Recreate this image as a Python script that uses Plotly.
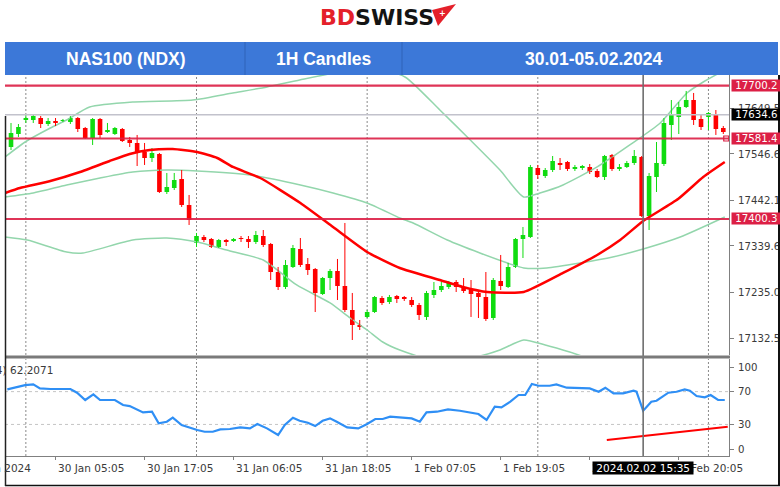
import plotly.graph_objects as go

W, H = 780, 487

# ---------------- data ----------------
opens = [17562.3, 17591.5, 17623.0, 17623.0, 17627.5, 17614.0, 17620.8, 17620.8, 17618.5, 17627.5,
         17605.0, 17582.5, 17625.3, 17596.0, 17591.5, 17602.8, 17578.0, 17571.3, 17551.0, 17537.5,
         17546.5, 17461.0, 17470.0, 17490.3, 17431.8, 17346.3, 17359.8, 17355.3, 17337.3, 17350.8,
         17350.8, 17357.5, 17355.3, 17348.5, 17362.0, 17344.0, 17281.0, 17247.3, 17292.3, 17332.8,
         17299.0, 17287.8, 17231.5, 17267.5, 17283.3, 17249.5, 17195.5, 17161.8, 17179.8, 17191.0,
         17222.5, 17213.5, 17227.0, 17224.8, 17218.0, 17206.8, 17179.8, 17229.3, 17240.5, 17247.3,
         17258.5, 17247.3, 17240.5, 17233.8, 17224.8, 17177.5, 17260.8, 17247.3, 17292.3, 17355.3,
         17359.8, 17515.0, 17497.0, 17510.5, 17526.3, 17528.5, 17512.8, 17515.0, 17517.3, 17508.3,
         17494.8, 17544.3, 17512.8, 17517.3, 17526.3, 17539.8, 17407.0, 17494.8, 17524.0, 17611.8,
         17629.8, 17652.3, 17668.0, 17625.3, 17629.8, 17636.5, 17605.0]
highs = [17616.3, 17614.0, 17634.3, 17634.3, 17632.0, 17627.5, 17627.5, 17625.3, 17632.0, 17629.8,
         17607.3, 17627.5, 17627.5, 17616.3, 17607.3, 17605.0, 17584.8, 17589.3, 17571.3, 17560.0,
         17548.8, 17503.8, 17503.8, 17510.5, 17454.3, 17368.8, 17364.3, 17357.5, 17355.3, 17355.3,
         17357.5, 17362.0, 17362.0, 17373.3, 17375.5, 17346.3, 17292.3, 17308.0, 17341.8, 17357.5,
         17312.5, 17290.0, 17269.8, 17287.8, 17310.3, 17391.3, 17233.8, 17173.0, 17195.5, 17227.0,
         17227.0, 17229.3, 17229.3, 17227.0, 17224.8, 17211.3, 17238.3, 17258.5, 17258.5, 17260.8,
         17263.0, 17267.5, 17263.0, 17240.5, 17281.0, 17267.5, 17319.3, 17301.3, 17357.5, 17382.3,
         17521.8, 17521.8, 17515.0, 17542.0, 17537.5, 17530.8, 17521.8, 17521.8, 17524.0, 17512.8,
         17544.3, 17546.5, 17524.0, 17530.8, 17555.5, 17542.0, 17503.8, 17573.5, 17627.5, 17668.0,
         17663.5, 17688.3, 17683.8, 17634.3, 17641.0, 17645.5, 17609.5]
lows = [17555.5, 17584.8, 17616.3, 17616.3, 17605.0, 17609.5, 17609.5, 17618.5, 17614.0, 17596.0,
        17580.3, 17566.8, 17582.5, 17593.8, 17589.3, 17573.5, 17562.3, 17519.5, 17521.8, 17528.5,
        17458.8, 17456.5, 17465.5, 17427.3, 17386.8, 17337.3, 17348.5, 17335.0, 17335.0, 17339.5,
        17348.5, 17348.5, 17335.0, 17344.0, 17337.3, 17263.0, 17240.5, 17242.8, 17290.0, 17292.3,
        17274.3, 17191.0, 17229.3, 17240.5, 17218.0, 17191.0, 17128.0, 17150.5, 17177.5, 17188.8,
        17206.8, 17209.0, 17211.3, 17215.8, 17202.3, 17173.0, 17173.0, 17222.5, 17236.0, 17242.8,
        17236.0, 17233.8, 17179.8, 17177.5, 17170.8, 17173.0, 17240.5, 17245.0, 17290.0, 17312.5,
        17357.5, 17490.3, 17492.5, 17506.0, 17510.5, 17508.3, 17508.3, 17510.5, 17501.5, 17492.5,
        17488.0, 17508.3, 17508.3, 17515.0, 17521.8, 17404.8, 17375.5, 17461.0, 17519.5, 17578.0,
        17591.5, 17650.0, 17611.8, 17600.5, 17600.5, 17589.3, 17591.5]
closes = [17593.8, 17607.3, 17627.5, 17632.0, 17614.0, 17620.8, 17616.3, 17623.0, 17627.5, 17602.8,
          17582.5, 17625.3, 17589.3, 17600.5, 17605.0, 17575.8, 17571.3, 17548.8, 17537.5, 17548.8,
          17461.0, 17472.3, 17488.0, 17431.8, 17398.0, 17362.0, 17353.0, 17337.3, 17353.0, 17348.5,
          17355.3, 17355.3, 17348.5, 17364.3, 17341.8, 17281.0, 17247.3, 17296.8, 17335.0, 17296.8,
          17285.5, 17233.8, 17267.5, 17283.3, 17249.5, 17195.5, 17161.8, 17157.3, 17191.0, 17224.8,
          17211.3, 17224.8, 17220.3, 17220.3, 17206.8, 17184.3, 17233.8, 17240.5, 17249.5, 17256.3,
          17247.3, 17238.3, 17231.5, 17224.8, 17175.3, 17263.0, 17249.5, 17292.3, 17355.3, 17364.3,
          17517.3, 17499.3, 17510.5, 17530.8, 17521.8, 17512.8, 17517.3, 17517.3, 17506.0, 17494.8,
          17542.0, 17512.8, 17517.3, 17526.3, 17542.0, 17407.0, 17497.0, 17526.3, 17616.3, 17634.3,
          17652.3, 17668.0, 17623.0, 17607.3, 17638.8, 17602.8, 17596.0]

# red moving average (bar index, price)
ma_x = [-0.8, 1.2, 5.3, 9.3, 13.3, 16.0, 18.7, 21.8, 25.1, 27.8, 29.9, 33.6, 39.0, 43.4, 48.0,
        52.4, 57.8, 60.9, 64.2, 69.1, 74.4, 79.0, 82.1, 85.2, 89.9, 93.3, 96.2]
ma_y = [17458.8, 17470.0, 17485.8, 17506.0, 17530.8, 17546.5, 17555.5, 17557.8, 17551.0, 17537.5,
        17517.3, 17492.5, 17436.3, 17382.3, 17326.0, 17290.0, 17263.0, 17247.3, 17236.0, 17236.0,
        17278.8, 17319.3, 17353.0, 17395.8, 17445.3, 17494.8, 17528.5]

# Bollinger bands (bar index, price)
bb_up_x = [-0.8, 1.9, 5.3, 7.5, 10.6, 16.4, 24.5, 29.9, 34.5, 38.9, 44.3, 49.1, 53.1, 57.8, 61.9,
           65.9, 69.1, 71.3, 74.4, 79.0, 83.4, 87.5, 91.1, 93.3, 96.2]
bb_up_y = [17539.8, 17573.5, 17605.0, 17623.0, 17652.3, 17663.5, 17668.0, 17683.8, 17697.3, 17713.0,
           17731.0, 17740.0, 17719.8, 17645.5, 17578.0, 17510.5, 17449.8, 17458.8, 17476.8, 17517.3,
           17566.8, 17616.3, 17683.8, 17708.5, 17735.5]
bb_mid_x = [-0.8, 3.0, 7.5, 12.0, 16.4, 21.0, 25.1, 32.2, 39.0, 43.4, 48.0, 52.4, 54.2, 58.8, 63.2,
            67.7, 69.1, 72.2, 76.7, 81.1, 85.2, 90.2, 96.2]
bb_mid_y = [17449.8, 17458.8, 17476.8, 17492.5, 17506.0, 17510.5, 17508.3, 17499.3, 17476.8, 17458.8,
            17436.3, 17402.5, 17391.3, 17353.0, 17323.8, 17296.8, 17290.0, 17290.0, 17301.3, 17314.8,
            17332.8, 17359.8, 17404.8]
bb_lo_x = [-0.8, 2.2, 7.5, 9.7, 16.4, 21.0, 25.1, 29.5, 34.0, 38.5, 43.0, 45.7, 48.0, 50.1, 52.4,
           57.8, 63.2, 65.9, 69.1, 72.0, 75.3, 79.4, 86.1, 96.2]
bb_lo_y = [17359.8, 17353.0, 17326.0, 17323.8, 17353.0, 17357.5, 17348.5, 17328.3, 17308.0, 17251.8,
           17211.3, 17177.5, 17150.5, 17123.5, 17105.5, 17078.5, 17092.0, 17105.5, 17128.0, 17116.8,
           17101.0, 17078.5, 17056.0, 17042.5]

# RSI (bar index, value)
rsi_x = [-0.5, 0.8, 1.9, 3.0, 3.9, 5.3, 8.0, 8.9, 10.0, 11.1, 12.0, 14.0, 15.1, 16.0, 17.0, 17.8,
         19.0, 19.9, 21.0, 21.8, 23.0, 23.9, 25.1, 26.1, 27.2, 28.2, 29.5, 30.9, 32.2, 33.2, 34.5,
         36.0, 36.9, 38.0, 38.9, 40.0, 41.0, 42.0, 43.0, 43.9, 45.3, 46.8, 48.0, 49.1, 50.1, 51.1,
         52.9, 54.0, 55.1, 56.0, 57.4, 58.9, 60.5, 63.0, 64.1, 65.2, 66.1, 67.3, 68.4, 69.3, 70.2,
         71.1, 72.6, 73.5, 74.9, 78.0, 79.2, 80.1, 81.2, 82.5, 83.9, 84.3, 85.2, 86.3, 87.0, 88.6,
         89.7, 90.8, 91.5, 92.4, 93.5, 94.3, 95.3, 96.2]
rsi_y = [72.8, 75.2, 78.0, 78.9, 74.0, 73.2, 73.2, 68.7, 59.8, 66.7, 59.8, 59.8, 53.7, 52.4, 47.6, 44.7,
         45.5, 31.3, 33.3, 38.2, 29.3, 26.4, 23.2, 21.1, 21.1, 24.0, 24.4, 26.4, 25.2, 30.5, 25.2,
         17.1, 29.3, 38.2, 34.5, 32.1, 28.0, 34.5, 37.4, 33.3, 26.4, 25.2, 30.5, 36.6, 36.6, 39.4,
         38.6, 37.4, 33.3, 44.7, 45.5, 48.4, 46.7, 42.7, 35.4, 51.6, 50.8, 57.7, 65.9, 65.9, 79.3,
         77.2, 77.2, 78.9, 74.8, 74.0, 69.9, 74.8, 67.9, 67.9, 71.1, 69.9, 46.7, 57.7, 58.9, 68.7,
         69.9, 72.8, 71.1, 64.6, 63.0, 65.9, 59.8, 59.8]
rsi_trend_x = [80.3, 96.6]
rsi_trend_y = [11.0, 27.2]

levels = [17700.2, 17581.4, 17400.3]
level_labels = ["17700.2", "17581.4", "17400.3"]
cross_price = 17634.6
cross_price_label = "17634.6"
cross_bar = 85.2
cross_time = "2024.02.02 15:35"
price_ticks = [17132.5, 17235.0, 17339.6, 17442.1, 17546.6, 17649.5]
price_tick_text = ["17132.5", "17235.0", "17339.6", "17442.1", "17546.6", "17649.5"]
rsi_ticks = [0, 30, 70, 100]
rsi_levels = [30, 70]
time_tick_bars = [-6, 6, 18, 30, 42, 54, 66, 78, 90]
time_tick_text = ["29 Jan 2024", "30 Jan 05:05", "30 Jan 17:05", "31 Jan 06:05", "31 Jan 18:05",
                  "1 Feb 07:05", "1 Feb 19:05", "2 Feb 08:05", "2 Feb 20:05"]
grid_bars = [2, 25, 48, 71, 94]
rsi_label = "RSI(14) 62.2071"
header_cells = ["NAS100 (NDX)", "1H Candles", "30.01-05.02.2024"]

# ---------------- layout geometry ----------------
def px_x(x):
    return x / W

def px_y(y):
    return 1 - y / H

XD = [px_x(5), px_x(729)]
XR = [-0.81, 96.77]
YD_MAIN = [px_y(355), px_y(75)]
YR_MAIN = [17094.25, 17724.25]
YD_RSI = [px_y(456), px_y(359)]
YR_RSI = [-8.5, 109.8]

def bar_to_paper(i):
    return XD[0] + (i - XR[0]) / (XR[1] - XR[0]) * (XD[1] - XD[0])

GREEN = "#10DC10"
RED = "#FF0000"
BB_COL = "#93D6AC"
LEVEL_COL = "#DC1F45"
AX_COL = "#808080"
TXT_COL = "#3a3a3a"
FONT = "DejaVu Sans"
FS = 10.2

n = len(opens)
idx = list(range(n))
is_up = [c >= o for o, c in zip(opens, closes)]

fig = go.Figure()

# Bollinger bands
for bx, by in [(bb_up_x, bb_up_y), (bb_mid_x, bb_mid_y), (bb_lo_x, bb_lo_y)]:
    fig.add_trace(go.Scatter(x=bx, y=by, mode="lines", xaxis="x2", yaxis="y",
                             line=dict(color=BB_COL, width=1.5, shape="spline", smoothing=0.6),
                             hoverinfo="skip"))

# wicks
for up_flag, col in [(True, GREEN), (False, RED)]:
    wx, wy = [], []
    for i in idx:
        if is_up[i] == up_flag:
            wx += [i, i, None]
            wy += [highs[i], lows[i], None]
    fig.add_trace(go.Scatter(x=wx, y=wy, mode="lines", xaxis="x2", yaxis="y",
                             line=dict(color=col, width=1), hoverinfo="skip"))

# bodies
body_base = [min(o, c) for o, c in zip(opens, closes)]
body_h = [max(abs(c - o), 1.6) for o, c in zip(opens, closes)]
fig.add_trace(go.Bar(x=idx, y=body_h, base=body_base, width=0.62, xaxis="x2", yaxis="y",
                     marker=dict(color=[GREEN if u else RED for u in is_up], line=dict(width=0)),
                     hoverinfo="skip"))

# moving average
fig.add_trace(go.Scatter(x=ma_x, y=ma_y, mode="lines", xaxis="x2", yaxis="y",
                         line=dict(color=RED, width=2.5, shape="spline", smoothing=0.5),
                         hoverinfo="skip"))

# small price marker at last bar
fig.add_trace(go.Scatter(x=[idx[-1] + 0.4], y=[levels[1]], mode="markers", xaxis="x2", yaxis="y",
                         marker=dict(symbol="square-open", size=5, color=LEVEL_COL, line=dict(width=1.2)),
                         hoverinfo="skip", cliponaxis=False))

# RSI
fig.add_trace(go.Scatter(x=rsi_x, y=rsi_y, mode="lines", xaxis="x", yaxis="y2",
                         line=dict(color="#2F8FF5", width=2.2), hoverinfo="skip"))
fig.add_trace(go.Scatter(x=rsi_trend_x, y=rsi_trend_y, mode="lines", xaxis="x", yaxis="y2",
                         line=dict(color=RED, width=2), hoverinfo="skip"))

shapes = []
# vertical dotted grid
for g in grid_bars:
    shapes.append(dict(type="line", xref="x2", yref="y domain", x0=g, x1=g, y0=0, y1=1,
                       line=dict(color="#8a8a8a", width=1, dash="2px,2px"), layer="below"))
    shapes.append(dict(type="line", xref="x", yref="y2 domain", x0=g, x1=g, y0=0, y1=1,
                       line=dict(color="#8a8a8a", width=1, dash="2px,2px"), layer="below"))
# RSI level dotted lines
for lv in rsi_levels:
    shapes.append(dict(type="line", xref="x domain", yref="y2", x0=0, x1=1, y0=lv, y1=lv,
                       line=dict(color="#c4c4c4", width=1, dash="3px,3px"), layer="below"))
# horizontal price levels
for lv in levels:
    shapes.append(dict(type="line", xref="x2 domain", yref="y", x0=0, x1=1, y0=lv, y1=lv,
                       line=dict(color=LEVEL_COL, width=2.2), layer="above", opacity=0.9))
# crosshair
shapes.append(dict(type="line", xref="x2 domain", yref="y", x0=0, x1=1, y0=cross_price, y1=cross_price,
                   line=dict(color="#c2c2cc", width=1.5), layer="above"))
shapes.append(dict(type="line", xref="x", yref="paper", x0=cross_bar, x1=cross_bar,
                   y0=YD_RSI[0], y1=YD_MAIN[1], line=dict(color="#6e6e6e", width=1.6), layer="above"))
# panel separator
shapes.append(dict(type="line", xref="paper", yref="paper", x0=px_x(5), x1=px_x(730),
                   y0=px_y(357), y1=px_y(357), line=dict(color="#7a7a7a", width=3), layer="above"))
# header bar
shapes.append(dict(type="rect", xref="paper", yref="paper", x0=px_x(5), x1=px_x(778),
                   y0=px_y(75), y1=px_y(42), fillcolor="#3C78D8", line=dict(width=0), layer="above"))
for dx in [245, 402]:
    shapes.append(dict(type="line", xref="paper", yref="paper", x0=px_x(dx), x1=px_x(dx),
                       y0=px_y(75), y1=px_y(42), line=dict(color="#2E62B8", width=1), layer="above"))
# outer borders
shapes.append(dict(type="line", xref="paper", yref="paper", x0=px_x(5), x1=1,
                   y0=px_y(485.5), y1=px_y(485.5), line=dict(color="#111111", width=1.5), layer="above"))
shapes.append(dict(type="line", xref="paper", yref="paper", x0=px_x(5.5), x1=px_x(5.5),
                   y0=px_y(486), y1=px_y(116), line=dict(color="#222222", width=1.5), layer="above"))
shapes.append(dict(type="line", xref="paper", yref="paper", x0=px_x(779), x1=px_x(779),
                   y0=px_y(486), y1=px_y(75), line=dict(color="#111111", width=2), layer="above"))
# logo arrow
shapes.append(dict(type="path", xref="paper", yref="paper",
                   path=f"M {px_x(432)},{px_y(10)} L {px_x(456)},{px_y(4)} L {px_x(438)},{px_y(26)} Z",
                   fillcolor="#E4202A", line=dict(width=0), layer="above"))

annotations = []
# level labels
for lv, lab in zip(levels, level_labels):
    annotations.append(dict(xref="paper", yref="y", x=px_x(731), y=lv, xanchor="left", yanchor="middle",
                            text="&nbsp;" + lab + "&nbsp;", showarrow=False, bgcolor=LEVEL_COL, borderpad=0,
                            font=dict(family=FONT, size=FS, color="white")))
annotations.append(dict(xref="paper", yref="y", x=px_x(731), y=cross_price, xanchor="left", yanchor="middle",
                        text="&nbsp;" + cross_price_label + "&nbsp;", showarrow=False, bgcolor="#000000",
                        borderpad=0, font=dict(family=FONT, size=FS, color="white")))
# time labels (left-aligned at tick)
for b, t in zip(time_tick_bars, time_tick_text):
    annotations.append(dict(xref="paper", yref="paper", x=bar_to_paper(b), y=px_y(467.5),
                            xanchor="left", yanchor="middle", text=t, showarrow=False,
                            font=dict(family=FONT, size=10.5, color=TXT_COL)))
# crosshair time box (drawn last so it covers the labels beneath, as in the terminal)
annotations.append(dict(xref="x", yref="paper", x=cross_bar, y=px_y(467.5), xanchor="center",
                        yanchor="middle", text="&nbsp;" + cross_time + "&nbsp;", showarrow=False,
                        bgcolor="#000000", borderpad=0,
                        font=dict(family=FONT, size=10.5, color="white")))
# RSI label (left part clipped by the frame)
annotations.append(dict(xref="paper", yref="paper", x=px_x(-34), y=px_y(370), xanchor="left",
                        yanchor="middle", text=rsi_label, showarrow=False,
                        font=dict(family=FONT, size=10.5, color=TXT_COL)))
# header texts
for cx, txt in zip([126, 324, 593], header_cells):
    annotations.append(dict(xref="paper", yref="paper", x=px_x(cx), y=px_y(59.5), xanchor="center",
                            yanchor="middle", text="<b>" + txt + "</b>", showarrow=False,
                            font=dict(family="Liberation Sans", size=17.5, color="white")))
# logo
annotations.append(dict(xref="paper", yref="paper", x=px_x(376.5), y=px_y(17.5), xanchor="center",
                        yanchor="middle", showarrow=False,
                        text="<b><span style='color:#E4202A'>BD</span><span style='color:#141414'>SWISS</span></b>",
                        font=dict(family="DejaVu Sans", size=22)))
annotations.append(dict(xref="paper", yref="paper", x=px_x(442.5), y=px_y(13), xanchor="center",
                        yanchor="middle", showarrow=False, text="<b>+</b>",
                        font=dict(family="DejaVu Sans", size=8, color="white")))

tickfont = dict(family=FONT, size=FS, color=TXT_COL)

fig.update_layout(
    width=W, height=H, margin=dict(l=0, r=0, t=0, b=0), autosize=False,
    paper_bgcolor="white", plot_bgcolor="white", showlegend=False,
    xaxis=dict(domain=XD, range=XR, anchor="y2", showline=True, linecolor=AX_COL, linewidth=1,
               ticks="outside", tickvals=time_tick_bars[1:], ticklen=3, tickcolor=AX_COL,
               showticklabels=False, showgrid=False, zeroline=False, fixedrange=True),
    xaxis2=dict(domain=XD, range=XR, matches="x", anchor="y", showticklabels=False, showgrid=False,
                zeroline=False, showline=False, ticks=""),
    yaxis=dict(domain=YD_MAIN, range=YR_MAIN, anchor="x2", side="right", showline=True,
               linecolor=AX_COL, linewidth=1, ticks="outside", ticklen=4, tickcolor=AX_COL,
               tickvals=price_ticks, ticktext=price_tick_text, tickfont=tickfont,
               showgrid=False, zeroline=False, automargin=False, ticklabelstandoff=2),
    yaxis2=dict(domain=YD_RSI, range=YR_RSI, anchor="x", side="right", showline=True,
                linecolor=AX_COL, linewidth=1, ticks="outside", ticklen=4, tickcolor=AX_COL,
                tickvals=rsi_ticks, tickfont=tickfont, showgrid=False, zeroline=False,
                automargin=False, ticklabelstandoff=2),
    shapes=shapes, annotations=annotations,
)

fig.write_html("out.html", config={"displayModeBar": False},
               post_script="document.body.style.margin='0px';document.body.style.padding='0px';")
